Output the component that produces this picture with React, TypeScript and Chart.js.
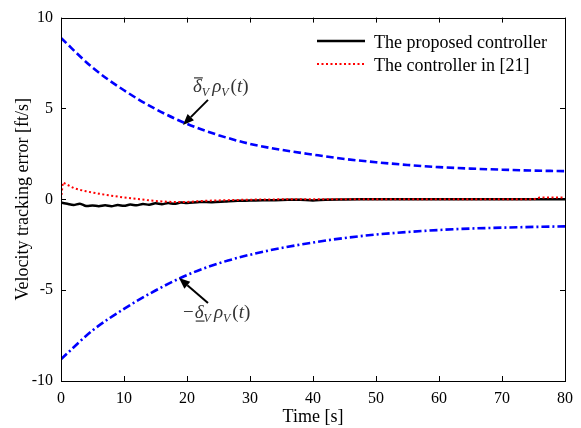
import React, { useEffect, useRef } from "react";
import { Chart, registerables } from "chart.js";

Chart.register(...registerables);

// ---- Data ----
const tBound = [0, 5, 10, 15, 20, 25, 30, 35, 40, 45, 50, 55, 60, 65, 70, 75, 80];
const upperBound = [8.88, 7.25, 6.0, 4.97, 4.15, 3.53, 3.05, 2.72, 2.46, 2.22, 2.04, 1.89, 1.77, 1.69, 1.63, 1.58, 1.55];
const lowerBound = [-8.8, -7.22, -6.03, -5.02, -4.17, -3.53, -3.05, -2.68, -2.38, -2.13, -1.94, -1.8, -1.69, -1.61, -1.56, -1.52, -1.49];

const tProposed = [0, 1, 2, 3, 4, 5, 6, 7, 8, 9, 10, 11, 12, 13, 14, 15, 16, 17, 18, 19, 20, 22, 24, 26, 28, 30, 32, 34, 36, 38, 40, 42, 45, 50, 60, 70, 80];
const proposed = [-0.18, -0.25, -0.32, -0.24, -0.37, -0.34, -0.38, -0.33, -0.38, -0.32, -0.36, -0.29, -0.33, -0.26, -0.3, -0.22, -0.27, -0.21, -0.25, -0.18, -0.2, -0.15, -0.16, -0.12, -0.08, -0.07, -0.05, -0.05, -0.03, -0.03, -0.06, -0.02, -0.01, 0, 0, 0, 0];

const tRef = [0, 0.3, 1, 2, 3, 4, 5, 6, 7, 8, 9, 10, 12, 14, 16, 18, 20, 22, 24, 26, 30, 35, 40, 50, 60, 70, 75, 76, 80];
const refCtrl = [0, 0.93, 0.8, 0.62, 0.52, 0.44, 0.37, 0.31, 0.25, 0.2, 0.15, 0.1, 0.02, -0.06, -0.12, -0.15, -0.15, -0.1, -0.07, -0.05, -0.02, 0, 0, 0, 0, 0, 0, 0.1, 0.1];

const xTicks = [0, 10, 20, 30, 40, 50, 60, 70, 80];
const yTicks = [-10, -5, 0, 5, 10];

const legendLabels = ["The proposed controller", "The controller in [21]"];
const xTitle = "Time [s]";
const yTitle = "Velocity tracking error [ft/s]";

const SERIF = "'Liberation Serif', 'Times New Roman', serif";

const toXY = (ts: number[], vs: number[]) => ts.map((t, i) => ({ x: t, y: vs[i] }));

function arrow(ctx: CanvasRenderingContext2D, x0: number, y0: number, x1: number, y1: number) {
  const ang = Math.atan2(y1 - y0, x1 - x0);
  const hl = 11, hw = 4.5;
  const bx = x1 - hl * Math.cos(ang), by = y1 - hl * Math.sin(ang);
  ctx.save();
  ctx.strokeStyle = "#000";
  ctx.fillStyle = "#000";
  ctx.lineWidth = 2;
  ctx.beginPath();
  ctx.moveTo(x0, y0);
  ctx.lineTo(bx, by);
  ctx.stroke();
  ctx.beginPath();
  ctx.moveTo(x1, y1);
  ctx.lineTo(bx + hw * Math.sin(ang), by - hw * Math.cos(ang));
  ctx.lineTo(bx - hw * Math.sin(ang), by + hw * Math.cos(ang));
  ctx.closePath();
  ctx.fill();
  ctx.restore();
}

type Piece = { t: string; it?: boolean; sub?: boolean; bar?: "over" | "under"; gap?: number };

function drawMath(ctx: CanvasRenderingContext2D, x: number, base: number, pieces: Piece[]) {
  ctx.save();
  ctx.fillStyle = "#333";
  ctx.strokeStyle = "#333";
  ctx.textBaseline = "alphabetic";
  ctx.textAlign = "left";
  let cx = x;
  for (const p of pieces) {
    cx += p.gap || 0;
    const size = p.sub ? 12 : 19;
    ctx.font = `${p.it ? "italic " : ""}${size}px ${SERIF}`;
    const y = p.sub ? base + 4 : base;
    ctx.fillText(p.t, cx, y);
    const w = ctx.measureText(p.t).width;
    if (p.bar) {
      ctx.lineWidth = 1.2;
      ctx.beginPath();
      const by = p.bar === "over" ? base - 14 : base + 3;
      ctx.moveTo(cx + 1, by);
      ctx.lineTo(cx + w + 1, by);
      ctx.stroke();
    }
    cx += w;
  }
  ctx.restore();
}

const decorPlugin = {
  id: "decor",
  afterDatasetsDraw(chart: any) {
    const { ctx, chartArea: a, scales } = chart;
    const xs = scales.x, ys = scales.y;
    ctx.save();
    // frame
    ctx.strokeStyle = "#000";
    ctx.lineWidth = 1;
    ctx.strokeRect(Math.round(a.left) + 0.5, Math.round(a.top) + 0.5, Math.round(a.right - a.left), Math.round(a.bottom - a.top));
    // inside ticks
    const tl = 5;
    ctx.beginPath();
    for (const v of xTicks) {
      const px = Math.round(xs.getPixelForValue(v)) + 0.5;
      ctx.moveTo(px, a.bottom);
      ctx.lineTo(px, a.bottom - tl);
      ctx.moveTo(px, a.top);
      ctx.lineTo(px, a.top + tl);
    }
    for (const v of yTicks) {
      const py = Math.round(ys.getPixelForValue(v)) + 0.5;
      ctx.moveTo(a.left, py);
      ctx.lineTo(a.left + tl, py);
      ctx.moveTo(a.right, py);
      ctx.lineTo(a.right - tl, py);
    }
    ctx.stroke();
    ctx.restore();

    // legend
    ctx.save();
    ctx.lineWidth = 2.6;
    ctx.strokeStyle = "#000";
    ctx.beginPath();
    ctx.moveTo(317, 41);
    ctx.lineTo(365, 41);
    ctx.stroke();
    ctx.strokeStyle = "#ff0000";
    ctx.lineWidth = 2;
    ctx.setLineDash([2, 2.5]);
    ctx.beginPath();
    ctx.moveTo(317, 64);
    ctx.lineTo(365, 64);
    ctx.stroke();
    ctx.setLineDash([]);
    ctx.fillStyle = "#000";
    ctx.font = `18px ${SERIF}`;
    ctx.textBaseline = "alphabetic";
    ctx.fillText(legendLabels[0], 374, 48);
    ctx.fillText(legendLabels[1], 374, 71);
    ctx.restore();

    // annotations
    const ux = xs.getPixelForValue(tBound[4]);
    const uy = ys.getPixelForValue(upperBound[4]);
    arrow(ctx, ux + 21, uy - 24, ux - 4, uy + 1);
    drawMath(ctx, ux + 6, uy - 32, [
      { t: "δ", it: true, bar: "over" },
      { t: "V", it: true, sub: true },
      { t: "ρ", it: true, gap: 3 },
      { t: "V", it: true, sub: true },
      { t: "(", gap: 2 },
      { t: "t", it: true },
      { t: ")" },
    ]);

    const lx = xs.getPixelForValue(tBound[4]);
    const ly = ys.getPixelForValue(lowerBound[4]);
    arrow(ctx, lx + 21, ly + 28, lx - 8, ly + 3);
    drawMath(ctx, lx - 4, ly + 43, [
      { t: "−" },
      { t: "δ", it: true, bar: "under", gap: 1 },
      { t: "V", it: true, sub: true },
      { t: "ρ", it: true, gap: 3 },
      { t: "V", it: true, sub: true },
      { t: "(", gap: 2 },
      { t: "t", it: true },
      { t: ")" },
    ]);
  },
};

export default function App() {
  const ref = useRef<HTMLCanvasElement | null>(null);
  useEffect(() => {
    document.body.style.margin = "0";
    const canvas = ref.current!;
    const chart = new Chart(canvas, {
      type: "line",
      data: {
        datasets: [
          {
            label: "upper",
            data: toXY(tBound, upperBound),
            borderColor: "#0000ff",
            borderWidth: 2.6,
            borderDash: [7.5, 3.5],
            pointRadius: 0,
            tension: 0.4,
            cubicInterpolationMode: "monotone",
            fill: false,
          },
          {
            label: "lower",
            data: toXY(tBound, lowerBound),
            borderColor: "#0000ff",
            borderWidth: 2.6,
            borderDash: [8, 3, 2, 3],
            pointRadius: 0,
            tension: 0.4,
            cubicInterpolationMode: "monotone",
            fill: false,
          },
          {
            label: legendLabels[1],
            data: toXY(tRef, refCtrl),
            borderColor: "#ff0000",
            borderWidth: 2,
            borderDash: [2, 2.5],
            pointRadius: 0,
            tension: 0,
            fill: false,
          },
          {
            label: legendLabels[0],
            data: toXY(tProposed, proposed),
            borderColor: "#000000",
            borderWidth: 2.5,
            pointRadius: 0,
            tension: 0.3,
            fill: false,
          },
        ],
      },
      options: {
        animation: false,
        responsive: false,
        maintainAspectRatio: false,
        layout: { padding: { left: 0, top: 17, right: 16, bottom: 0 } },
        plugins: { legend: { display: false }, tooltip: { enabled: false } },
        scales: {
          x: {
            type: "linear",
            min: 0,
            max: 80,
            grid: { display: false, drawTicks: false },
            border: { display: false },
            ticks: {
              stepSize: 10,
              color: "#000",
              padding: 8,
              maxRotation: 0,
              font: { family: SERIF, size: 16 },
            },
            title: {
              display: true,
              text: xTitle,
              color: "#000",
              font: { family: SERIF, size: 18 },
              padding: { top: 0, bottom: 0 },
            },
            afterFit: (s: any) => {
              s.height = 47;
            },
          },
          y: {
            type: "linear",
            min: -10,
            max: 10,
            grid: { display: false, drawTicks: false },
            border: { display: false },
            ticks: {
              stepSize: 5,
              color: "#000",
              padding: 8,
              font: { family: SERIF, size: 16 },
              callback: (v: any) => String(v),
            },
            title: {
              display: true,
              text: yTitle,
              color: "#000",
              font: { family: SERIF, size: 18 },
              padding: { top: 12, bottom: 0 },
            },
            afterFit: (s: any) => {
              s.width = 61;
            },
          },
        },
      },
      plugins: [decorPlugin],
    } as any);
    return () => chart.destroy();
  }, []);
  return (
    <div style={{ width: 581, height: 428, background: "#fff" }}>
      <canvas ref={ref} width={581} height={428} style={{ display: "block" }} />
    </div>
  );
}
